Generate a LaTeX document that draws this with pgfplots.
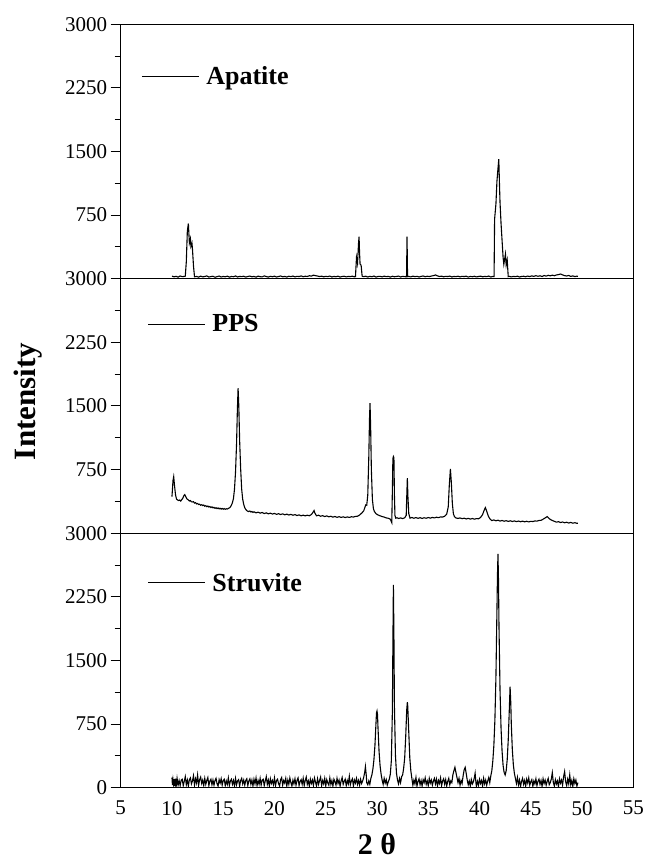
\documentclass[border=0pt]{standalone}
\usepackage{fontspec}
\setmainfont{Liberation Serif}
\usepackage{pgfplots}
\pgfplotsset{compat=1.18}

\pgfplotsset{
  xrdpanel/.style={
    width=512.6pt, height=254.5pt, scale only axis,
    xmin=5, xmax=55, ymin=0, ymax=3000,
    xtick={5,10,...,55},
    ytick={750,1500,2250,3000},
    minor ytick={375,1125,1875,2625},
    ytick pos=left,
    tick align=outside,
    major tick length=10pt, minor tick length=6pt,
    every tick/.style={black, line width=1pt},
    xtick style={draw=none},
    axis line style={line width=1pt},
    scaled y ticks=false,
    /pgf/number format/assume math mode=true,
    /pgf/number format/1000 sep={},
    tick label style={font=\fontsize{21}{25}\selectfont},
    legend style={draw=none, fill=none, inner sep=0pt, anchor=west, column sep=6pt,
      font=\fontsize{26}{30}\selectfont\bfseries, nodes={inner sep=1pt}},
    legend image code/.code={\draw[#1, line width=0.9pt] (0pt,0pt) -- (57pt,0pt);},
  },
  xrd/.style={black, line width=1.1pt, mark=none},
}

\begin{document}
\begin{tikzpicture}
\useasboundingbox (-120.7pt,-73.3pt) rectangle (524.3pt,787.7pt);

% Apatite
\begin{axis}[xrdpanel, name=top, at={(0pt,509pt)}, xticklabels={},
  legend style={at={(0.040,0.796)}}]
\addplot[xrd] coordinates {
(10.0,30)(10.2,22)(10.4,28)(10.6,18)(10.8,32)(11.0,24)(11.2,27)(11.3,30)
(11.4,200)(11.5,560)(11.6,650)(11.7,420)(11.8,470)(11.85,380)(11.95,420)(12.0,350)(12.1,150)(12.2,22)
(12.4,27)(12.6,18)(12.8,30)(13.0,21)(13.2,26)(13.4,33)(13.6,19)(13.8,25)(14.0,29)(14.2,17)(14.4,24)(14.6,31)(14.8,20)
(15.0,27)(15.2,22)(15.4,30)(15.6,18)(15.8,26)(16.0,23)(16.2,32)(16.4,20)(16.6,27)(16.8,24)(17.0,29)(17.2,19)(17.4,26)
(17.6,31)(17.8,22)(18.0,27)(18.2,18)(18.4,30)(18.6,24)(18.8,21)(19.0,33)(19.2,25)(19.4,19)(19.6,28)(19.8,23)(20.0,30)
(20.2,20)(20.4,26)(20.6,32)(20.8,22)(21.0,27)(21.2,19)(21.4,29)(21.6,24)(21.8,31)(22.0,21)(22.2,28)(22.4,25)(22.6,33)
(22.8,23)(23.0,29)(23.2,26)(23.4,35)(23.6,30)(23.8,42)(24.0,36)(24.2,31)(24.4,25)(24.6,30)(24.8,22)(25.0,28)(25.2,24)
(25.4,31)(25.6,20)(25.8,27)(26.0,23)(26.2,30)(26.4,19)(26.6,26)(26.8,29)(27.0,21)(27.2,27)(27.4,24)(27.6,30)(27.8,22)
(27.9,25)(28.0,250)(28.1,180)(28.2,420)(28.25,495)(28.3,300)(28.35,170)(28.45,160)(28.55,30)
(28.7,24)(28.9,29)(29.1,20)(29.3,27)(29.5,23)(29.7,31)(29.9,19)(30.1,26)(30.3,28)(30.5,21)(30.7,30)(30.9,24)(31.1,27)
(31.3,19)(31.5,29)(31.7,23)(31.9,26)(32.1,31)(32.3,20)(32.5,28)(32.7,24)(32.88,22)(32.93,495)(32.98,24)
(33.1,27)(33.3,21)(33.5,30)(33.7,24)(33.9,28)(34.1,20)(34.3,27)(34.5,32)(34.7,23)(34.9,29)(35.1,25)(35.3,31)(35.5,36)
(35.7,44)(35.9,33)(36.1,26)(36.3,30)(36.5,22)(36.7,28)(36.9,25)(37.1,31)(37.3,20)(37.5,27)(37.7,24)(37.9,29)(38.1,21)
(38.3,28)(38.5,25)(38.7,30)(38.9,19)(39.1,27)(39.3,23)(39.5,29)(39.7,21)(39.9,26)(40.1,30)(40.3,22)(40.5,27)(40.7,24)
(40.9,31)(41.1,20)(41.3,27)(41.42,25)
(41.47,700)(41.6,880)(41.7,1150)(41.8,1300)(41.88,1408)(41.95,1100)(42.0,900)(42.1,650)(42.2,450)(42.3,250)
(42.37,170)(42.45,230)(42.53,290)(42.6,160)(42.7,220)(42.8,25)
(42.9,28)(43.1,21)(43.3,27)(43.5,24)(43.7,30)(43.9,20)(44.1,26)(44.3,29)(44.5,23)(44.7,31)(44.9,25)(45.1,33)(45.3,27)
(45.5,36)(45.7,28)(45.9,34)(46.1,26)(46.3,38)(46.5,30)(46.7,40)(46.9,33)(47.1,42)(47.3,35)(47.5,44)(47.7,48)(47.9,55)
(48.1,45)(48.3,36)(48.5,32)(48.7,38)(48.9,27)(49.1,33)(49.3,25)(49.5,30)(49.6,27)
};
\addlegendentry{Apatite}
\end{axis}

% PPS
\begin{axis}[xrdpanel, name=mid, at={(0pt,254.5pt)}, xticklabels={},
  legend style={at={(0.052,0.822)}}]
\addplot[xrd] coordinates {
(10.0,432)(10.05,520)(10.1,620)(10.17,667)(10.25,560)(10.35,450)(10.45,400)(10.55,392)(10.65,385)(10.75,390)
(10.85,378)(10.95,395)(11.05,410)(11.15,440)(11.25,455)(11.35,430)(11.45,405)(11.6,392)(11.7,380)(11.8,385)
(11.9,370)(12.0,368)(12.1,372)(12.2,355)(12.3,360)(12.4,345)(12.5,350)(12.6,338)(12.7,342)(12.8,330)(12.9,336)
(13.0,325)(13.1,332)(13.2,318)(13.3,325)(13.4,312)(13.5,320)(13.6,308)(13.7,315)(13.8,302)(13.9,310)(14.0,298)
(14.1,305)(14.2,294)(14.3,300)(14.4,290)(14.5,298)(14.6,287)(14.7,294)(14.8,284)(14.9,292)(15.0,283)(15.1,290)
(15.2,282)(15.3,288)(15.4,285)(15.5,292)(15.6,298)(15.7,310)(15.8,330)(15.9,360)(16.0,410)(16.1,520)(16.2,720)
(16.3,1050)(16.38,1450)(16.45,1709)(16.52,1500)(16.6,1100)(16.7,760)(16.8,520)(16.9,400)(17.0,340)(17.1,300)
(17.2,280)(17.3,266)(17.46,255)(17.6,262)(17.7,250)(17.8,256)(17.9,245)(18.0,252)(18.2,240)(18.4,248)(18.6,236)
(18.8,244)(19.0,232)(19.2,240)(19.4,228)(19.6,236)(19.8,226)(20.0,233)(20.2,222)(20.4,230)(20.6,220)(20.8,228)
(21.0,217)(21.2,225)(21.4,214)(21.6,222)(21.8,212)(22.0,219)(22.2,208)(22.4,216)(22.6,205)(22.8,213)(23.0,204)
(23.2,212)(23.4,206)(23.6,220)(23.75,245)(23.86,267)(23.95,235)(24.1,205)(24.3,212)(24.5,200)(24.7,207)(24.9,196)
(25.1,204)(25.3,193)(25.5,200)(25.7,189)(25.9,197)(26.1,187)(26.3,195)(26.5,186)(26.7,193)(26.9,184)(27.1,192)
(27.3,186)(27.5,194)(27.7,190)(27.9,198)(28.1,200)(28.3,214)(28.5,236)(28.7,262)(28.9,334)(29.0,330)(29.1,450)
(29.2,900)(29.27,1350)(29.32,1533)(29.38,1250)(29.45,750)(29.55,400)(29.65,290)(29.75,255)(29.9,230)(30.1,215)
(30.3,205)(30.5,196)(30.7,190)(30.9,180)(31.1,176)(31.3,165)(31.44,125)(31.5,500)(31.55,880)(31.6,904)(31.65,890)
(31.7,450)(31.75,210)(31.83,177)(31.95,182)(32.1,174)(32.3,180)(32.5,172)(32.7,182)(32.85,210)(32.92,500)
(32.96,648)(33.02,420)(33.1,230)(33.22,177)(33.4,185)(33.6,176)(33.8,184)(34.0,175)(34.2,183)(34.4,174)(34.6,182)
(34.8,176)(35.0,185)(35.2,177)(35.4,186)(35.6,180)(35.8,188)(36.0,183)(36.2,192)(36.4,190)(36.6,200)(36.8,225)
(36.95,310)(37.05,560)(37.16,758)(37.25,600)(37.35,350)(37.45,230)(37.55,195)(37.7,180)(37.9,174)(38.1,180)
(38.3,171)(38.5,177)(38.7,168)(38.9,175)(39.1,166)(39.3,173)(39.5,165)(39.7,172)(39.9,170)(40.1,185)(40.3,220)
(40.45,270)(40.57,302)(40.7,260)(40.85,205)(41.0,170)(41.2,149)(41.4,156)(41.6,146)(41.8,153)(42.0,143)(42.2,150)
(42.4,141)(42.6,148)(42.8,139)(43.0,146)(43.2,138)(43.4,145)(43.6,136)(43.8,143)(44.0,135)(44.2,142)(44.4,134)
(44.6,141)(44.8,133)(45.0,140)(45.2,137)(45.4,145)(45.6,142)(45.8,150)(46.0,152)(46.2,165)(46.4,180)(46.6,196)
(46.75,178)(46.9,162)(47.1,150)(47.3,140)(47.5,130)(47.7,136)(47.9,126)(48.1,132)(48.3,123)(48.5,129)(48.7,120)
(48.9,127)(49.1,118)(49.3,124)(49.5,116)(49.6,118)
};
\addlegendentry{PPS}
\end{axis}

% Struvite
\begin{axis}[xrdpanel, name=bot, at={(0pt,0pt)},
  ytick={0,750,1500,2250,3000},
  xlabel={2 θ},
  xlabel style={font=\fontsize{30}{36}\selectfont\bfseries, at={(rel axis cs:0.5,0)},
    anchor=north, yshift=-46pt, inner sep=0pt},
  legend style={at={(0.052,0.805)}}]
\addplot[xrd] coordinates {
(10.0,120)(10.05,30)(10.1,95)(10.15,45)(10.2,100)(10.25,20)(10.3,70)(10.35,35)(10.4,105)(10.45,50)
(10.5,110)(10.6,30)(10.7,85)(10.8,25)(10.9,90)(11.0,100)(11.1,25)(11.2,75)(11.3,130)(11.4,35)(11.5,90)
(11.6,20)(11.7,95)(11.8,115)(11.9,45)(12.0,80)(12.1,140)(12.2,30)(12.3,105)(12.4,55)(12.5,150)(12.6,30)
(12.7,95)(12.8,125)(12.9,50)(13.0,90)(13.1,25)(13.2,110)(13.3,40)(13.4,85)(13.5,120)(13.6,25)(13.7,80)
(13.8,100)(13.9,35)(14.0,90)(14.1,30)(14.2,85)(14.3,110)(14.4,45)(14.5,20)(14.6,95)(14.7,55)(14.8,105)
(14.9,30)(15.0,85)(15.1,100)(15.2,25)(15.3,80)(15.4,40)(15.5,115)(15.6,25)(15.7,80)(15.8,100)(15.9,40)
(16.0,85)(16.1,20)(16.2,110)(16.3,35)(16.4,80)(16.5,95)(16.6,20)(16.7,85)(16.8,110)(16.9,45)(17.0,90)
(17.1,30)(17.2,85)(17.3,105)(17.4,25)(17.5,80)(17.6,105)(17.7,40)(17.8,90)(17.9,20)(18.0,100)(18.1,45)
(18.2,115)(18.3,25)(18.4,85)(18.5,40)(18.6,110)(18.7,30)(18.8,90)(18.9,100)(19.0,25)(19.1,80)(19.2,130)
(19.3,40)(19.4,90)(19.5,20)(19.6,105)(19.7,50)(19.8,85)(19.9,35)(20.0,115)(20.1,25)(20.2,85)(20.3,100)
(20.4,45)(20.5,20)(20.6,95)(20.7,120)(20.8,30)(20.9,85)(21.0,55)(21.1,110)(21.2,20)(21.3,90)(21.4,40)
(21.5,115)(21.6,60)(21.7,20)(21.8,90)(21.9,45)(22.0,105)(22.1,30)(22.2,85)(22.3,115)(22.4,25)(22.5,75)
(22.6,95)(22.7,40)(22.8,110)(22.9,25)(23.0,85)(23.1,125)(23.2,40)(23.3,80)(23.4,20)(23.5,100)(23.6,50)
(23.7,90)(23.8,30)(23.9,115)(24.0,65)(24.1,20)(24.2,105)(24.3,40)(24.4,85)(24.5,125)(24.6,25)(24.7,85)
(24.8,45)(24.9,110)(25.0,20)(25.1,95)(25.2,55)(25.3,30)(25.4,115)(25.5,40)(25.6,85)(25.7,20)(25.8,100)
(25.9,70)(26.0,30)(26.1,110)(26.2,50)(26.3,90)(26.4,20)(26.5,80)(26.6,120)(26.7,40)(26.8,75)(26.9,100)
(27.0,25)(27.1,85)(27.2,45)(27.3,135)(27.4,35)(27.5,80)(27.6,105)(27.7,20)(27.8,90)(27.9,55)(28.0,110)
(28.1,40)(28.2,85)(28.3,30)(28.4,100)(28.5,50)(28.6,80)(28.7,120)
(28.8,180)(28.87,248)(28.95,150)(29.0,60)(29.1,35)(29.2,80)(29.3,40)(29.4,110)
(29.5,150)(29.6,220)(29.7,330)(29.8,500)(29.9,760)(29.95,880)(30.0,904)(30.05,860)(30.1,700)(30.2,430)
(30.3,260)(30.4,160)(30.5,90)(30.6,40)(30.7,110)(30.8,55)(30.9,95)(31.0,30)(31.1,70)(31.2,100)
(31.3,160)(31.4,320)(31.5,900)(31.55,1700)(31.6,2390)(31.65,1800)(31.7,950)(31.8,380)(31.9,170)(32.0,90)
(32.1,45)(32.2,110)(32.3,60)(32.4,130)
(32.5,150)(32.6,230)(32.7,350)(32.8,600)(32.9,920)(32.96,1007)(33.0,960)(33.1,650)(33.2,350)(33.3,200)(33.4,110)
(33.5,30)(33.6,90)(33.7,45)(33.8,120)(33.9,20)(34.0,75)(34.1,105)(34.2,35)(34.3,85)(34.4,20)
(34.5,95)(34.6,60)(34.7,115)(34.8,40)(34.9,80)(35.0,25)(35.1,110)(35.2,55)(35.3,90)(35.4,30)
(35.5,80)(35.6,110)(35.7,45)(35.8,100)(35.9,20)(36.0,85)(36.1,50)(36.2,115)(36.3,25)(36.4,80)
(36.5,105)(36.6,40)(36.7,95)(36.8,20)(36.9,75)(37.0,110)(37.1,35)(37.2,80)(37.3,60)
(37.4,150)(37.5,200)(37.6,240)(37.7,180)(37.8,120)(37.9,60)(38.0,110)(38.1,30)(38.2,85)(38.3,50)
(38.4,140)(38.5,210)(38.6,240)(38.7,170)(38.8,90)(38.9,35)(39.0,80)(39.1,20)(39.2,95)(39.3,45)
(39.4,70)(39.5,120)(39.57,170)(39.65,60)(39.7,15)(39.8,75)(39.9,30)(40.0,100)(40.1,50)(40.2,85)
(40.3,20)(40.4,110)(40.5,45)(40.6,90)(40.7,30)(40.8,80)(40.9,120)(41.0,60)(41.1,140)
(41.2,200)(41.3,320)(41.4,500)(41.5,800)(41.6,1300)(41.7,2100)(41.75,2500)(41.8,2755)(41.85,2450)(41.9,1900)
(42.0,1150)(42.1,700)(42.2,430)(42.3,260)(42.4,180)(42.5,150)(42.6,200)(42.7,330)(42.8,560)(42.9,900)
(42.98,1191)(43.05,1000)(43.1,750)(43.2,450)(43.3,270)(43.4,170)(43.5,110)
(43.6,50)(43.7,120)(43.8,35)(43.9,90)(44.0,15)(44.1,75)(44.2,110)(44.3,40)(44.4,85)(44.5,20)
(44.6,100)(44.7,55)(44.8,115)(44.9,30)(45.0,70)(45.1,95)(45.2,15)(45.3,80)(45.4,45)(45.5,105)
(45.6,25)(45.7,75)(45.8,100)(45.9,40)(46.0,85)(46.1,15)(46.2,105)(46.3,50)(46.4,90)(46.5,30)
(46.6,75)(46.7,110)(46.8,35)(46.9,60)(47.0,100)(47.1,177)(47.2,60)(47.3,20)(47.4,95)(47.5,45)
(47.6,80)(47.7,15)(47.8,105)(47.9,55)(48.0,90)(48.1,30)(48.2,130)(48.3,190)(48.4,70)(48.5,25)
(48.6,100)(48.7,45)(48.8,150)(48.9,35)(49.0,85)(49.1,15)(49.2,105)(49.3,50)(49.4,90)(49.5,20)(49.6,60)
};
\addlegendentry{Struvite}
\end{axis}

\node[rotate=90, font=\fontsize{31}{36}\selectfont\bfseries]
  at ([xshift=-92.7pt, yshift=4.5pt]mid.west) {Intensity};
\end{tikzpicture}
\end{document}
